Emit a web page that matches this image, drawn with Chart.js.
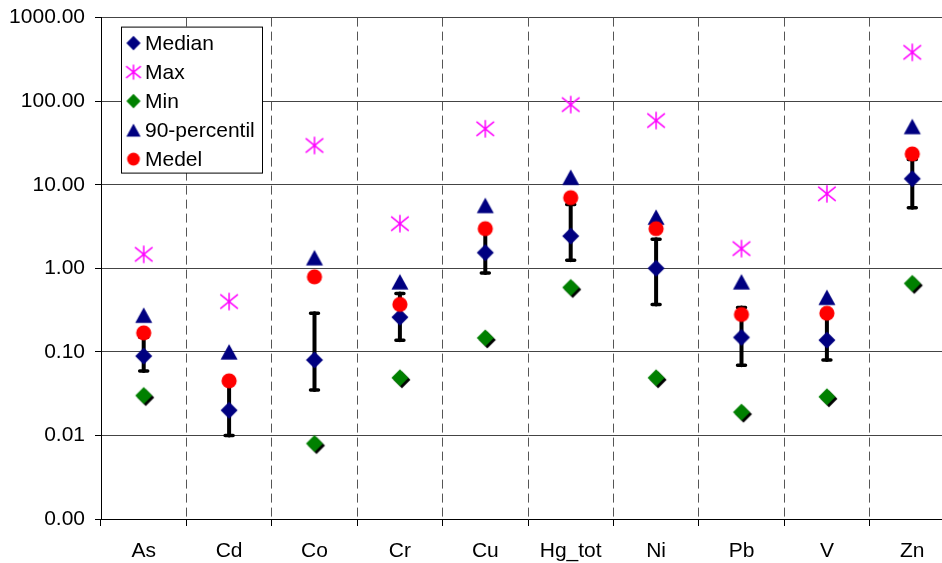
<!DOCTYPE html>
<html>
<head>
<meta charset="utf-8">
<script src="https://cdn.jsdelivr.net/npm/chart.js@4.4.1/dist/chart.umd.min.js"></script>
<style>
  html, body { margin: 0; padding: 0; background: #fff; overflow: hidden; width: 942px; height: 563px; }
  #wrap { width: 964px; height: 568px; margin-top: -5px; }
</style>
</head>
<body>
<div id="wrap"><canvas id="chart" width="964" height="568"></canvas></div>
<script>
// --- data ---
const categories = ['As', 'Cd', 'Co', 'Cr', 'Cu', 'Hg_tot', 'Ni', 'Pb', 'V', 'Zn'];
const seriesNames = ['Median', 'Max', 'Min', '90-percentil', 'Medel'];
const median = [0.089, 0.020, 0.080, 0.26, 1.54, 2.43, 1.0, 0.149, 0.138, 11.8];
const maxVals = [1.47, 0.40, 29.5, 3.42, 46.7, 91, 58.7, 1.72, 7.8, 384];
const minVals = [0.030, null, 0.008, 0.049, 0.147, 0.59, 0.049, 0.019, 0.029, 0.66];
const p90 = [0.275, 0.10, 1.34, 0.69, 5.66, 12.3, 4.1, 0.69, 0.45, 49.8];
const medel = [0.169, 0.045, 0.79, 0.37, 2.98, 7.0, 2.98, 0.28, 0.29, 23.4];
// whiskers around the median
const errLow = [0.059, 0.010, 0.035, 0.138, 0.88, 1.25, 0.37, 0.069, 0.080, 5.3];
const errHigh = [0.15, 0.045, 0.29, 0.50, 2.8, 5.8, 2.22, 0.34, 0.27, 20];
const yTickValues = [0.001, 0.01, 0.1, 1, 10, 100, 1000];
const yTickLabels = ['0.00', '0.01', '0.10', '1.00', '10.00', '100.00', '1000.00'];

const FONT = '"Liberation Sans", Arial, sans-serif';

// --- marker images ---
function makeCanvas(size, draw) {
    const c = document.createElement('canvas');
    c.width = size; c.height = size;
    draw(c.getContext('2d'), size / 2);
    return c;
}
function diamond(g, cx, cy, r, color) {
    g.fillStyle = color;
    g.beginPath();
    g.moveTo(cx, cy - r); g.lineTo(cx + r, cy); g.lineTo(cx, cy + r); g.lineTo(cx - r, cy);
    g.closePath(); g.fill();
}
function triangle(g, c, w, h, color) {
    g.fillStyle = color;
    g.beginPath();
    g.moveTo(c, c - h / 2); g.lineTo(c + w / 2, c + h / 2); g.lineTo(c - w / 2, c + h / 2);
    g.closePath(); g.fill();
}
function circle(g, c, r, color) {
    g.fillStyle = color;
    g.beginPath(); g.arc(c, c, r, 0, Math.PI * 2); g.fill();
}
function star(g, c, r, color) {
    g.strokeStyle = color; g.lineWidth = 1.5;
    g.beginPath();
    g.moveTo(c, c - r); g.lineTo(c, c + r);
    g.moveTo(c - r, c - r * 0.8); g.lineTo(c + r, c + r * 0.8);
    g.moveTo(c - r, c + r * 0.8); g.lineTo(c + r, c - r * 0.8);
    g.stroke();
}

function buildMarkers(s, shadow) {
    return [
        makeCanvas(22, (g, c) => diamond(g, c, c, 8.5 * s, '#000080')),
        makeCanvas(22, (g, c) => star(g, c, 8.8 * s, '#FF00FF')),
        makeCanvas(24, (g, c) => {
            if (shadow) diamond(g, c + 2, c + 2, 8.5 * s, '#000');
            diamond(g, c, c, 8.5 * s, '#008000');
        }),
        makeCanvas(22, (g, c) => triangle(g, c, 17 * s, 15.5 * s, '#000080')),
        makeCanvas(22, (g, c) => circle(g, c, 7.6 * s, '#FF0000'))
    ];
}
const plotMarkers = buildMarkers(1, true);
const legendMarkers = buildMarkers(0.84, false);

// --- plugins ---
const errorBars = {
    id: 'errorBars',
    beforeDatasetsDraw(chart) {
        const { ctx, scales: { x, y } } = chart;
        ctx.save();
        ctx.strokeStyle = '#000';
        ctx.lineCap = 'round';
        categories.forEach((cat, i) => {
            const px = x.getPixelForValue(i);
            const yLo = y.getPixelForValue(errLow[i]);
            const yHi = y.getPixelForValue(errHigh[i]);
            ctx.lineWidth = 4;
            ctx.beginPath(); ctx.moveTo(px, yLo); ctx.lineTo(px, yHi); ctx.stroke();
            ctx.lineWidth = 3.5;
            ctx.beginPath();
            ctx.moveTo(px - 4, yLo); ctx.lineTo(px + 4, yLo);
            ctx.moveTo(px - 4, yHi); ctx.lineTo(px + 4, yHi);
            ctx.stroke();
        });
        ctx.restore();
    }
};

const boxLegend = {
    id: 'boxLegend',
    afterDraw(chart) {
        const ctx = chart.ctx;
        const top = chart.chartArea.top;
        ctx.save();
        ctx.fillStyle = '#fff';
        ctx.fillRect(121.5, top + 9.5, 141, 146);
        ctx.strokeStyle = '#000';
        ctx.lineWidth = 1;
        ctx.strokeRect(121.5, top + 9.5, 141, 146);
        ctx.font = '21px ' + FONT;
        ctx.fillStyle = '#000';
        ctx.textBaseline = 'middle';
        seriesNames.forEach((name, i) => {
            const yy = top + 25.5 + i * 29;
            const m = legendMarkers[i];
            ctx.drawImage(m, 133.5 - m.width / 2, yy - m.height / 2);
            ctx.fillText(name, 145, yy + 1);
        });
        ctx.restore();
    }
};

// --- chart ---
const seriesData = [median, maxVals, minVals, p90, medel];
const datasets = seriesNames.map((name, i) => ({
    label: name,
    data: seriesData[i],
    showLine: false,
    pointStyle: plotMarkers[i],
    pointRadius: 8,
    pointHoverRadius: 8,
    order: seriesNames.length - i
}));

new Chart(document.getElementById('chart'), {
    type: 'line',
    data: { labels: categories, datasets },
    options: {
        responsive: false,
        animation: false,
        devicePixelRatio: 1,
        layout: { padding: { left: 0, top: 12, right: 0, bottom: 0 } },
        plugins: { legend: { display: false }, tooltip: { enabled: false } },
        scales: {
            x: {
                type: 'category',
                offset: true,
                grid: {
                    offset: true,
                    color: c => c.index === 0 ? 'rgba(0,0,0,0)' : '#555',
                    lineWidth: 1,
                    drawTicks: true,
                    tickLength: 7,
                    tickColor: '#000',
                    tickBorderDash: []
                },
                border: { display: true, color: '#000', width: 1, dash: [9, 5] },
                ticks: { color: '#000', font: { family: FONT, size: 21 }, padding: 13, maxRotation: 0 },
                afterFit(scale) { scale.height = 44; }
            },
            y: {
                type: 'logarithmic',
                min: 0.001,
                max: 1000,
                grid: { color: '#444', lineWidth: 1, drawTicks: true, tickLength: 6, tickColor: '#000' },
                border: { display: true, color: '#000', width: 1 },
                afterBuildTicks(scale) { scale.ticks = yTickValues.map(v => ({ value: v })); },
                ticks: {
                    color: '#000',
                    font: { family: FONT, size: 21 },
                    padding: 10,
                    callback: (v, idx) => yTickLabels[idx]
                },
                afterFit(scale) { scale.width = 101; }
            }
        }
    },
    plugins: [errorBars, boxLegend]
});
</script>
</body>
</html>
